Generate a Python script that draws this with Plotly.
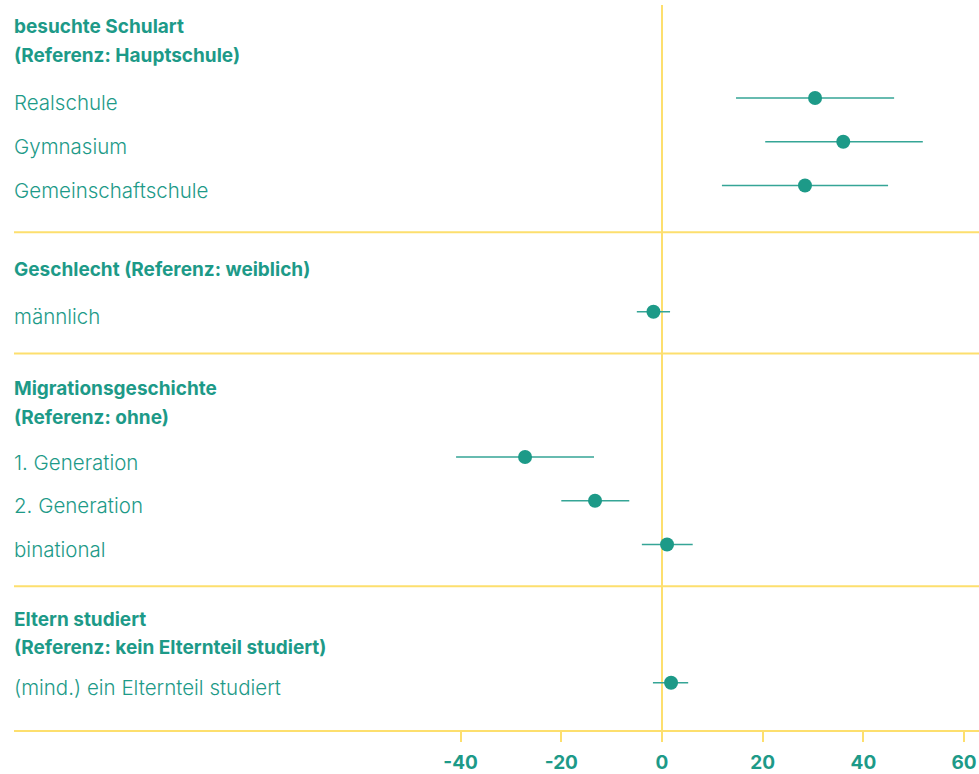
import plotly.graph_objects as go

# ---- data ----
groups = [
    ["besuchte Schulart", "(Referenz: Hauptschule)"],
    ["Geschlecht (Referenz: weiblich)"],
    ["Migrationsgeschichte", "(Referenz: ohne)"],
    ["Eltern studiert", "(Referenz: kein Elternteil studiert)"],
]
items = [
    ["Realschule", "Gymnasium", "Gemeinschaftschule"],
    ["männlich"],
    ["1. Generation", "2. Generation", "binational"],
    ["(mind.) ein Elternteil studiert"],
]
estimates = [
    [30.4, 36.0, 28.4],
    [-1.7],
    [-27.2, -13.3, 1.0],
    [1.8],
]
ci_low = [
    [14.7, 20.5, 11.9],
    [-5.0],
    [-40.9, -20.0, -4.0],
    [-1.8],
]
ci_high = [
    [46.1, 51.8, 44.9],
    [1.6],
    [-13.5, -6.5, 6.1],
    [5.2],
]
tick_values = [-40, -20, 0, 20, 40, 60]
tick_labels = ["-40", "-20", "0", "20", "40", "60"]

# ---- style ----
TEAL = "#1d9a88"
TEAL_LINE = "#35a596"
YELLOW = "#fddf6e"
FONT = "Inter"
W, H = 979, 774
PLOT_H = 734
LEFT_PX = 14
TEXT_PX = 12

# layout spacing (pixel units on reversed y axis), per group
HEADER_OFF = [36, 37, 35.5, 33.5]
LINE_GAP = 28.5
HEAD_TO_ITEM = [43, 43, 40, 35]
ITEM_GAP = 44
ITEM_TO_SEP = [47, 42, 42, 47.5]

xs, ys, lo, hi = [], [], [], []
annotations = []
seps = []
pos = -9
for g, head in enumerate(groups):
    y = pos + HEADER_OFF[g]
    for i, line in enumerate(head):
        if i > 0:
            y += LINE_GAP
        annotations.append(dict(x=TEXT_PX / W, xref="paper", y=y, yref="y", text="<b>%s</b>" % line,
                                showarrow=False, xanchor="left", yanchor="middle",
                                font=dict(family=FONT, size=19, color=TEAL)))
    y += HEAD_TO_ITEM[g]
    for j, name in enumerate(items[g]):
        if j > 0:
            y += ITEM_GAP
        xs.append(estimates[g][j])
        ys.append(y)
        lo.append(estimates[g][j] - ci_low[g][j])
        hi.append(ci_high[g][j] - estimates[g][j])
        annotations.append(dict(x=TEXT_PX / W, xref="paper", y=y, yref="y", text=name,
                                showarrow=False, xanchor="left", yanchor="middle", yshift=-5,
                                font=dict(family=FONT, size=20.5, color=TEAL, weight=300)))
    pos = y + ITEM_TO_SEP[g]
    seps.append(pos)

fig = go.Figure()
fig.add_trace(go.Scatter(
    x=xs, y=ys, mode="markers",
    marker=dict(size=14, color=TEAL),
    error_x=dict(type="data", symmetric=False, array=hi, arrayminus=lo,
                 color=TEAL_LINE, thickness=1.6, width=0),
    hoverinfo="x",
))

shapes = []
shapes.append(dict(type="line", xref="x", yref="y", x0=0, x1=0, y0=5, y1=seps[-1],
                   line=dict(color=YELLOW, width=2), layer="below"))
for s in seps[:-1]:
    shapes.append(dict(type="line", xref="paper", yref="y", x0=LEFT_PX / W, x1=1, y0=s, y1=s,
                       line=dict(color=YELLOW, width=2), layer="below"))

px_per_unit = 5.035
zero_px = 662
x_left = (LEFT_PX - zero_px) / px_per_unit
x_right = (W - zero_px) / px_per_unit

fig.update_layout(
    width=W, height=H,
    margin=dict(l=0, r=0, t=0, b=H - PLOT_H),
    paper_bgcolor="white", plot_bgcolor="white",
    showlegend=False,
    shapes=shapes,
    annotations=annotations,
    xaxis=dict(domain=[LEFT_PX / W, 1], range=[x_left, x_right],
               tickvals=tick_values, ticktext=tick_labels,
               ticks="outside", ticklen=10, tickwidth=2, tickcolor=YELLOW,
               ticklabelstandoff=4,
               tickfont=dict(family=FONT, size=19, color=TEAL, weight="bold"),
               showline=True, linecolor=YELLOW, linewidth=2,
               showgrid=False, zeroline=False, fixedrange=True),
    yaxis=dict(range=[PLOT_H, 0], visible=False, showgrid=False, zeroline=False, fixedrange=True),
)

PAGE_JS = (
    "var d=document.documentElement,b=document.body;"
    "d.style.margin='0';d.style.padding='0';d.style.overflow='hidden';"
    "b.style.margin='0';b.style.padding='0';b.style.overflow='hidden';"
)

fig.write_html("out.html", config={"displayModeBar": False}, post_script=PAGE_JS)
